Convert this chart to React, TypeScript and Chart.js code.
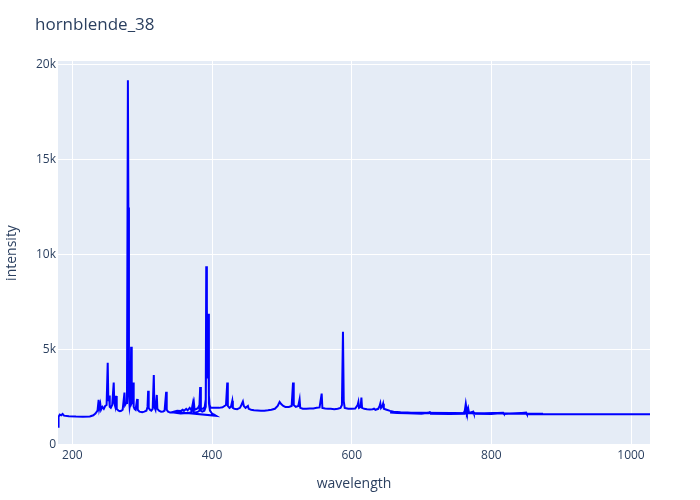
import React, { useEffect, useRef } from 'react';
import { Chart, registerables } from 'chart.js';

Chart.register(...registerables);

const TITLE = 'hornblende_38';
const X_LABEL = 'wavelength';
const Y_LABEL = 'intensity';
const X_TICKS = [200, 400, 600, 800, 1000];
const Y_TICKS = [0, 5000, 10000, 15000, 20000];

// spectrometer segment A
const segA_wavelength = [
  179.4, 180.2, 182, 184, 186, 188, 195, 205, 215, 225,
  230, 233, 236, 237.6, 238.5, 240, 241, 243, 245, 247,
  249, 250.6, 251.5, 252.5, 253.5, 255, 257, 259.2, 260, 261.5,
  262.6, 263.5, 266, 268, 270, 272, 274.6, 275.5, 277, 278.2,
  279.5, 280.2, 281, 282, 283.3, 284.1, 285, 286.2, 287, 287.8,
  289, 290.5, 292.8, 293.6, 296, 300, 303, 306, 307.6, 308.5,
  309.3, 311, 313, 315, 316.6, 317.4, 319, 320.9, 321.7, 324,
  327, 330, 332, 334.3, 335.1, 337, 340, 345, 350, 355,
  360, 365, 370, 372.5, 373.3, 376, 380, 382, 383, 383.8,
  386, 389, 391, 392.3, 393.2, 394.5, 395.5, 397, 400, 403,
  406,
];
const segA_intensity = [
  950, 1480, 1600, 1560, 1630, 1540, 1510, 1490, 1480, 1500,
  1560, 1650, 1800, 2370, 1900, 2150, 1850, 2000, 1900, 2050,
  2100, 4320, 2300, 2600, 2000, 1950, 2100, 3280, 2200, 2000,
  2580, 1900, 1800, 1780, 1800, 1850, 2750, 2100, 2200, 2600,
  19200, 12500, 2600, 2000, 2300, 5170, 2200, 2300, 3280, 2000,
  1900, 1850, 2420, 1850, 1750, 1720, 1750, 1800, 2000, 2850,
  1950, 1850, 1800, 1900, 3680, 2000, 1850, 2630, 1900, 1800,
  1750, 1760, 1800, 2800, 1850, 1750, 1700, 1700, 1680, 1650,
  1660, 1680, 1700, 2180, 1750, 1700, 1750, 1800, 3020, 1800,
  1750, 1800, 2000, 9370, 3500, 6910, 2200, 1800, 1650, 1600,
  1530,
];

// spectrometer segment B
const segB_wavelength = [
  345, 350, 355, 358, 360, 363, 365, 368, 370, 372.5,
  374, 375, 378, 380, 382, 383, 384, 387, 389.5, 391,
  391.7, 392.6, 394.5, 395.5, 396.5, 398, 400, 405, 410, 415,
  420, 421.8, 422.6, 425, 427, 429, 429.8, 432, 436, 440,
  442, 444.2, 445.5, 448, 451.4, 452.5, 456, 460, 465, 470,
  475, 480, 485, 490, 494, 496.8, 499, 502, 505, 510,
  514, 516, 517, 520, 523.5, 525.4, 526.3, 530, 535, 540,
  545, 550, 554, 557, 558, 562, 566, 570, 575, 580,
  584, 586, 587.5, 588.6, 590, 595, 600, 605, 608.5, 609.6,
  610.5, 612.8, 613.9, 614.8, 618, 622, 626, 630, 632, 634,
  638, 640, 641, 642, 644, 645, 646, 650, 655, 660,
  670, 680, 690, 700, 710, 712, 714, 730, 750, 760,
  762, 763.4, 764.5, 766.8, 768, 770, 774, 775, 790, 817,
  818, 850, 851, 874,
];
const segB_intensity = [
  1750, 1800, 1780, 1850, 1800, 1900, 1820, 1950, 1850, 2000,
  2230, 1850, 1900, 1950, 2100, 3050, 1900, 1900, 2000, 2400,
  9400, 4000, 6900, 2600, 2100, 1950, 1950, 1960, 1950, 1980,
  2100, 3280, 2050, 1950, 2000, 2320, 1950, 1900, 1880, 1950,
  2100, 2280, 2050, 1950, 2050, 1900, 1850, 1820, 1810, 1800,
  1800, 1820, 1850, 1900, 2050, 2260, 2150, 2050, 2000, 2000,
  2050, 3280, 2100, 2000, 2050, 2400, 1950, 1900, 1900, 1910,
  1920, 1950, 1970, 2700, 1950, 1920, 1900, 1900, 1880, 1900,
  1950, 2100, 5950, 2300, 1950, 1900, 1900, 1910, 2100, 2260,
  1950, 2000, 2490, 1950, 1900, 1880, 1870, 1880, 1910, 1850,
  1900, 2050, 2190, 1950, 2050, 2170, 1900, 1850, 1790, 1750,
  1720, 1700, 1680, 1660, 1670, 1710, 1660, 1650, 1650, 1655,
  1800, 2170, 1900, 1930, 1700, 1680, 1750, 1650, 1650, 1690,
  1640, 1690, 1640, 1635,
];

// spectrometer segment C
const segC_wavelength = [
  655, 665, 680, 700, 712, 713, 740, 762, 763.8, 765,
  766.8, 768, 773.5, 774.5, 800, 817, 818.5, 850, 851, 870,
  900, 950, 1000, 1027.2,
];
const segC_intensity = [
  1700, 1680, 1660, 1640, 1700, 1640, 1630, 1640, 1900, 1700,
  1930, 1680, 1750, 1640, 1630, 1680, 1630, 1690, 1620, 1620,
  1615, 1610, 1610, 1610,
];

const FONT = '"Open Sans", verdana, arial, sans-serif';
const TEXT_COLOR = '#2a3f5f';

export default function App() {
  const ref = useRef<HTMLCanvasElement>(null);

  useEffect(() => {
    if (!ref.current) return;
    const pts: { x: number; y: number }[] = [];
    const add = (w: number[], v: number[]) => {
      for (let i = 0; i < w.length; i++) pts.push({ x: w[i], y: v[i] });
    };
    add(segA_wavelength, segA_intensity);
    add(segB_wavelength, segB_intensity);
    add(segC_wavelength, segC_intensity);

    const bgPlugin = {
      id: 'plotBg',
      beforeDraw(chart: any) {
        const { ctx, chartArea } = chart;
        ctx.save();
        ctx.fillStyle = '#E5ECF6';
        ctx.fillRect(chartArea.left, chartArea.top, chartArea.right - chartArea.left, chartArea.bottom - chartArea.top);
        ctx.restore();
      },
    };
    const titlePlugin = {
      id: 'plotTitle',
      afterDraw(chart: any) {
        const { ctx } = chart;
        ctx.save();
        ctx.font = `17px ${FONT}`;
        ctx.fillStyle = TEXT_COLOR;
        ctx.textAlign = 'left';
        ctx.textBaseline = 'alphabetic';
        ctx.fillText(TITLE, 35, 30);
        ctx.restore();
      },
    };

    const chart = new Chart(ref.current, {
      type: 'scatter',
      data: {
        datasets: [
          {
            data: pts,
            showLine: true,
            borderColor: '#0000ff',
            backgroundColor: '#0000ff',
            borderWidth: 2,
            pointRadius: 0,
            tension: 0,
            fill: false,
          },
        ],
      },
      options: {
        animation: false,
        responsive: false,
        layout: { padding: { left: 0, right: 50, top: 61, bottom: 0 } },
        plugins: {
          legend: { display: false },
          tooltip: { enabled: false },
          title: { display: false },
        },
        scales: {
          x: {
            type: 'linear',
            min: 179.4,
            max: 1027.2,
            afterFit: (s: any) => { s.height = 55; },
            afterBuildTicks: (s: any) => { s.ticks = X_TICKS.map((v) => ({ value: v })); },
            grid: { color: '#ffffff', lineWidth: 1, drawTicks: false },
            border: { display: false },
            ticks: {
              padding: 3,
              color: TEXT_COLOR,
              font: { family: FONT, size: 12 },
              maxRotation: 0,
              autoSkip: false,
              callback: (v: any) => String(v),
            },
            title: {
              display: true,
              text: X_LABEL,
              color: TEXT_COLOR,
              font: { family: FONT, size: 14 },
              padding: { top: 0, bottom: 8 },
            },
          },
          y: {
            type: 'linear',
            min: -5,
            max: 20210,
            afterFit: (s: any) => { s.width = 58; },
            afterBuildTicks: (s: any) => { s.ticks = Y_TICKS.map((v) => ({ value: v })); },
            grid: { color: '#ffffff', lineWidth: 1, drawTicks: false },
            border: { display: false },
            ticks: {
              padding: 2,
              color: TEXT_COLOR,
              font: { family: FONT, size: 12 },
              autoSkip: false,
              callback: (v: any) => (v === 0 ? '0' : `${v / 1000}k`),
            },
            title: {
              display: true,
              text: Y_LABEL,
              color: TEXT_COLOR,
              font: { family: FONT, size: 14 },
              padding: { top: 4, bottom: 0 },
            },
          },
        },
      },
      plugins: [bgPlugin, titlePlugin],
    });
    return () => chart.destroy();
  }, []);

  return (
    <div style={{ position: 'fixed', left: 0, top: 0, width: 700, height: 500, background: '#ffffff' }}>
      <canvas ref={ref} width={700} height={500} style={{ width: 700, height: 500, display: 'block' }} />
    </div>
  );
}
